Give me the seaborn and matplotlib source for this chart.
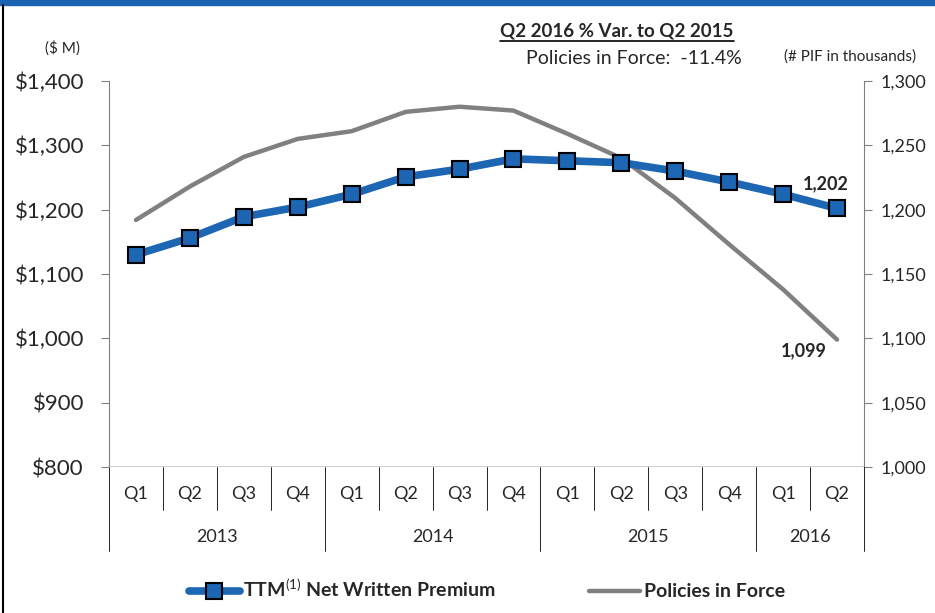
import numpy as np
import pandas as pd
import matplotlib
matplotlib.use("Agg")
import matplotlib.pyplot as plt
import seaborn as sns
from matplotlib.lines import Line2D
from matplotlib.patches import Rectangle
import matplotlib.transforms as mtransforms

# data
quarters = ["Q1", "Q2", "Q3", "Q4", "Q1", "Q2", "Q3", "Q4",
            "Q1", "Q2", "Q3", "Q4", "Q1", "Q2"]
years = ["2013", "2014", "2015", "2016"]
year_len = [4, 4, 4, 2]
nwp = [1130, 1156, 1189, 1204, 1224, 1251, 1263, 1279, 1276, 1273, 1260, 1243, 1224, 1202]
pif = [1192, 1218, 1241, 1255, 1261, 1276, 1280, 1277, 1259, 1240, 1209, 1173, 1138, 1099]
left_ticks = [800, 900, 1000, 1100, 1200, 1300, 1400]
right_ticks = [1000, 1050, 1100, 1150, 1200, 1250, 1300]

sns.set_style("white")
plt.rcParams["font.family"] = ["Lato", "DejaVu Sans"]
plt.rcParams["mathtext.fontset"] = "custom"
plt.rcParams["mathtext.rm"] = "Lato"

BLUE = "#1c66b4"
GRAY = "#808080"

df = pd.DataFrame({"x": np.arange(len(nwp)), "nwp": nwp, "pif": pif})

fig = plt.figure(figsize=(9.35, 6.13), dpi=100)
W, H = 935, 613
ax = fig.add_axes([109 / W, 1 - 467 / H, (864 - 109) / W, (467 - 81) / H])
ax2 = ax.twinx()

sns.lineplot(data=df, x="x", y="pif", ax=ax2, color=GRAY, linewidth=3.2,
             label="Policies in Force", legend=False)
sns.lineplot(data=df, x="x", y="nwp", ax=ax, color=BLUE, linewidth=5.5,
             marker="s", markersize=11, markeredgecolor="black",
             markeredgewidth=1.5, markerfacecolor=BLUE,
             label=r"TTM$^{\rm (1)}$ Net Written Premium", legend=False)
ax.set_zorder(ax2.get_zorder() + 1)
ax.patch.set_visible(False)

ax.set_xlim(-0.5, len(nwp) - 0.5)
ax.set_ylim(800, 1400)
ax2.set_ylim(1000, 1300)
ax.set_yticks(left_ticks)
ax.set_yticklabels(["${:,}".format(v) for v in left_ticks], fontsize=16)
ax2.set_yticks(right_ticks)
ax2.set_yticklabels(["{:,}".format(v) for v in right_ticks], fontsize=13)
ax.set_xticks([])
ax.set_xlabel("")
ax.set_ylabel("")
ax2.set_ylabel("")

for a in (ax, ax2):
    a.spines["top"].set_visible(False)
    a.spines["left"].set_color(GRAY)
    a.spines["right"].set_color(GRAY)
    a.spines["bottom"].set_visible(False)
ax.spines["right"].set_visible(False)
ax2.spines["left"].set_visible(False)
ax.tick_params(axis="y", direction="out", length=6, color=GRAY, pad=12)
ax2.tick_params(axis="y", direction="out", length=6, color=GRAY, pad=6)

# category axis at $800 with separators
ax.axhline(800, color="black", linewidth=1.0, zorder=0)
trans = mtransforms.blended_transform_factory(ax.transData, ax.transAxes)
px = 1.0 / (467 - 81)
bounds = np.cumsum([0] + year_len) - 0.5
for k in range(len(nwp) + 1):
    xk = k - 0.5
    depth = 84 if xk in bounds else 43
    ax.plot([xk, xk], [0, -depth * px], color="black", linewidth=0.6,
            transform=trans, clip_on=False)
for k, q in enumerate(quarters):
    ax.text(k, -27 * px, q, transform=trans, ha="center", va="center", fontsize=13)
for i, y in enumerate(years):
    ax.text((bounds[i] + bounds[i + 1]) / 2, -70 * px, y, transform=trans,
            ha="center", va="center", fontsize=13)

# end labels
ax.annotate("{:,}".format(nwp[-1]), (len(nwp) - 1, nwp[-1]), xytext=(-8, 18),
            textcoords="offset points", ha="center", va="center",
            fontsize=13, fontweight="bold")
ax2.annotate("{:,}".format(pif[-1]), (len(pif) - 1, pif[-1]), xytext=(-24, -8),
             textcoords="offset points", ha="center", va="center",
             fontsize=13, fontweight="bold")

# header texts
fig.text(62 / W, 1 - 48 / H, "($ M)", ha="center", va="center", fontsize=11)
fig.text(850 / W, 1 - 57 / H, "(# PIF in thousands)", ha="center", va="center", fontsize=11)
title = fig.text(617 / W, 1 - 31 / H, "Q2 2016 % Var. to Q2 2015", ha="center",
                 va="center", fontsize=13.5, fontweight="bold")
fig.text(742 / W, 1 - 58 / H, "Policies in Force:  -11.4%", ha="right",
         va="center", fontsize=14)
fig.canvas.draw()
bb = title.get_window_extent(fig.canvas.get_renderer()).transformed(fig.transFigure.inverted())
fig.add_artist(Line2D([bb.x0, bb.x1], [bb.y0 - 1.5 / H, bb.y0 - 1.5 / H],
                      color="black", linewidth=1.2))

# legend
h1, l1 = ax.get_legend_handles_labels()
h2, l2 = ax2.get_legend_handles_labels()
fig.legend(h1 + h2, l1 + l2, loc="center", bbox_to_anchor=(487 / W, 1 - 589 / H),
           ncol=2, frameon=False, handlelength=2.6, columnspacing=4.8,
           handletextpad=0.2, prop={"weight": "bold", "size": 14})

# frame decorations
fig.add_artist(Rectangle((0, 1 - 5 / H), 1, 5 / H, transform=fig.transFigure,
                         color="#1a63b0", zorder=0))
fig.add_artist(Line2D([3 / W, 3 / W], [0, 1 - 5 / H], color="black", linewidth=1.5))

fig.savefig("out.png", dpi=100)
